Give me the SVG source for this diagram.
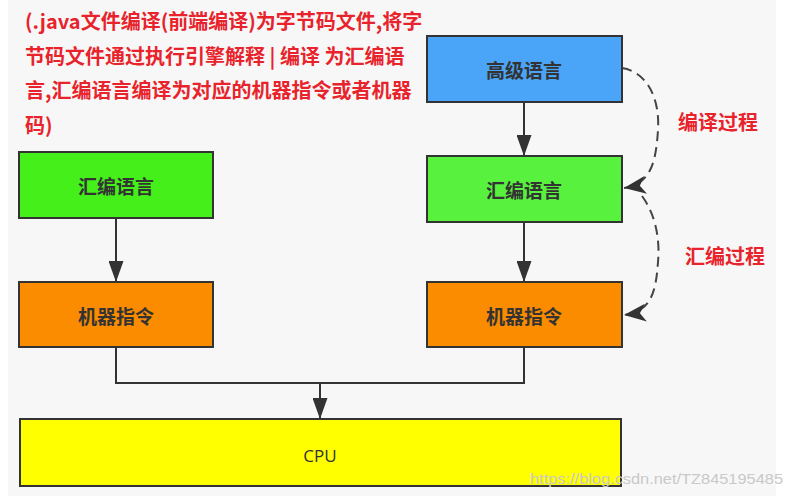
<svg xmlns="http://www.w3.org/2000/svg" width="792" height="501" viewBox="0 0 792 501">
<defs>
<style>
.box{stroke:#333;stroke-width:2}
.lbl{font-family:"Noto Sans CJK SC","Noto Sans",sans-serif;font-size:19px;font-weight:bold;fill:#333;text-anchor:middle;dominant-baseline:central}
.red{font-family:"Noto Sans CJK SC","Liberation Sans",sans-serif;font-weight:bold;fill:#e8232b}
.edge{fill:none;stroke:#333;stroke-width:2}
.dash{fill:none;stroke:#444;stroke-width:2;stroke-dasharray:10 6}
</style>
<marker id="ah" viewBox="0 0 21 15" refX="21" refY="7.5" markerWidth="21" markerHeight="15" markerUnits="userSpaceOnUse" orient="auto">
<path d="M0,0 L21,7.5 L0,15 Z" fill="#333"/>
</marker>
<marker id="ad" viewBox="0 0 22 18" refX="22" refY="9" markerWidth="22" markerHeight="18" markerUnits="userSpaceOnUse" orient="auto">
<path d="M0,0 L22,9 L0,18 L6,9 Z" fill="#333"/>
</marker>
</defs>
<rect width="792" height="501" fill="#fff"/>
<rect x="8" y="0" width="768" height="496" fill="#f7f7f7"/>

<g id="note">
<text class="red" font-size="20" x="25" y="29">(.java文件编译(前端编译)为字节码文件,将字</text>
<text class="red" font-size="20" x="25" y="64">节码文件通过执行引擎解释 | 编译 为汇编语</text>
<text class="red" font-size="20" x="25" y="98">言,汇编语言编译为对应的机器指令或者机器</text>
<text class="red" font-size="20" x="25" y="133">码)</text>
</g>

<g id="connectors">
<path class="edge" d="M524,102 V156" marker-end="url(#ah)"/>
<path class="edge" d="M524,222 V282" marker-end="url(#ah)"/>
<path class="edge" d="M116,218 V282" marker-end="url(#ah)"/>
<path class="edge" d="M116,347 V383 H524 V347"/>
<path class="edge" d="M320,383 V419" marker-end="url(#ah)"/>
<path class="dash" d="M622,68 C648,72 660,100 658,130 C656,160 652,184 624,188" marker-end="url(#ad)"/>
<path class="dash" d="M642,196 C656,215 660,240 658,262 C656,290 652,312 624,315" marker-end="url(#ad)"/>
</g>

<g id="n-high">
<rect class="box" x="427" y="36" width="195" height="66" fill="#4aa4f7"/>
<text class="lbl" x="524" y="69">高级语言</text>
</g>
<g id="n-asm-r">
<rect class="box" x="427" y="156" width="195" height="66" fill="#58f23e"/>
<text class="lbl" x="524" y="189">汇编语言</text>
</g>
<g id="n-mc-r">
<rect class="box" x="427" y="282" width="195" height="65" fill="#fb8c00"/>
<text class="lbl" x="524" y="315">机器指令</text>
</g>
<g id="n-asm-l">
<rect class="box" x="19" y="152" width="194" height="66" fill="#45f01a"/>
<text class="lbl" x="116" y="185">汇编语言</text>
</g>
<g id="n-mc-l">
<rect class="box" x="19" y="282" width="194" height="65" fill="#fb8c00"/>
<text class="lbl" x="116" y="315">机器指令</text>
</g>
<g id="n-cpu">
<rect class="box" x="20" y="419" width="601" height="67" fill="#ffff00"/>
<text x="320" y="455" font-family="'Open Sans','Noto Sans',sans-serif" font-size="17" fill="#333" text-anchor="middle" dominant-baseline="central">CPU</text>
</g>

<g id="labels">
<text class="red" font-size="20" x="678" y="130">编译过程</text>
<text class="red" font-size="20" x="685" y="264">汇编过程</text>
</g>
<text x="530" y="484" font-family="'Liberation Sans',sans-serif" font-size="15" fill="#c9c9c9" textLength="253" lengthAdjust="spacingAndGlyphs">https://blog.csdn.net/TZ845195485</text>
</svg>
